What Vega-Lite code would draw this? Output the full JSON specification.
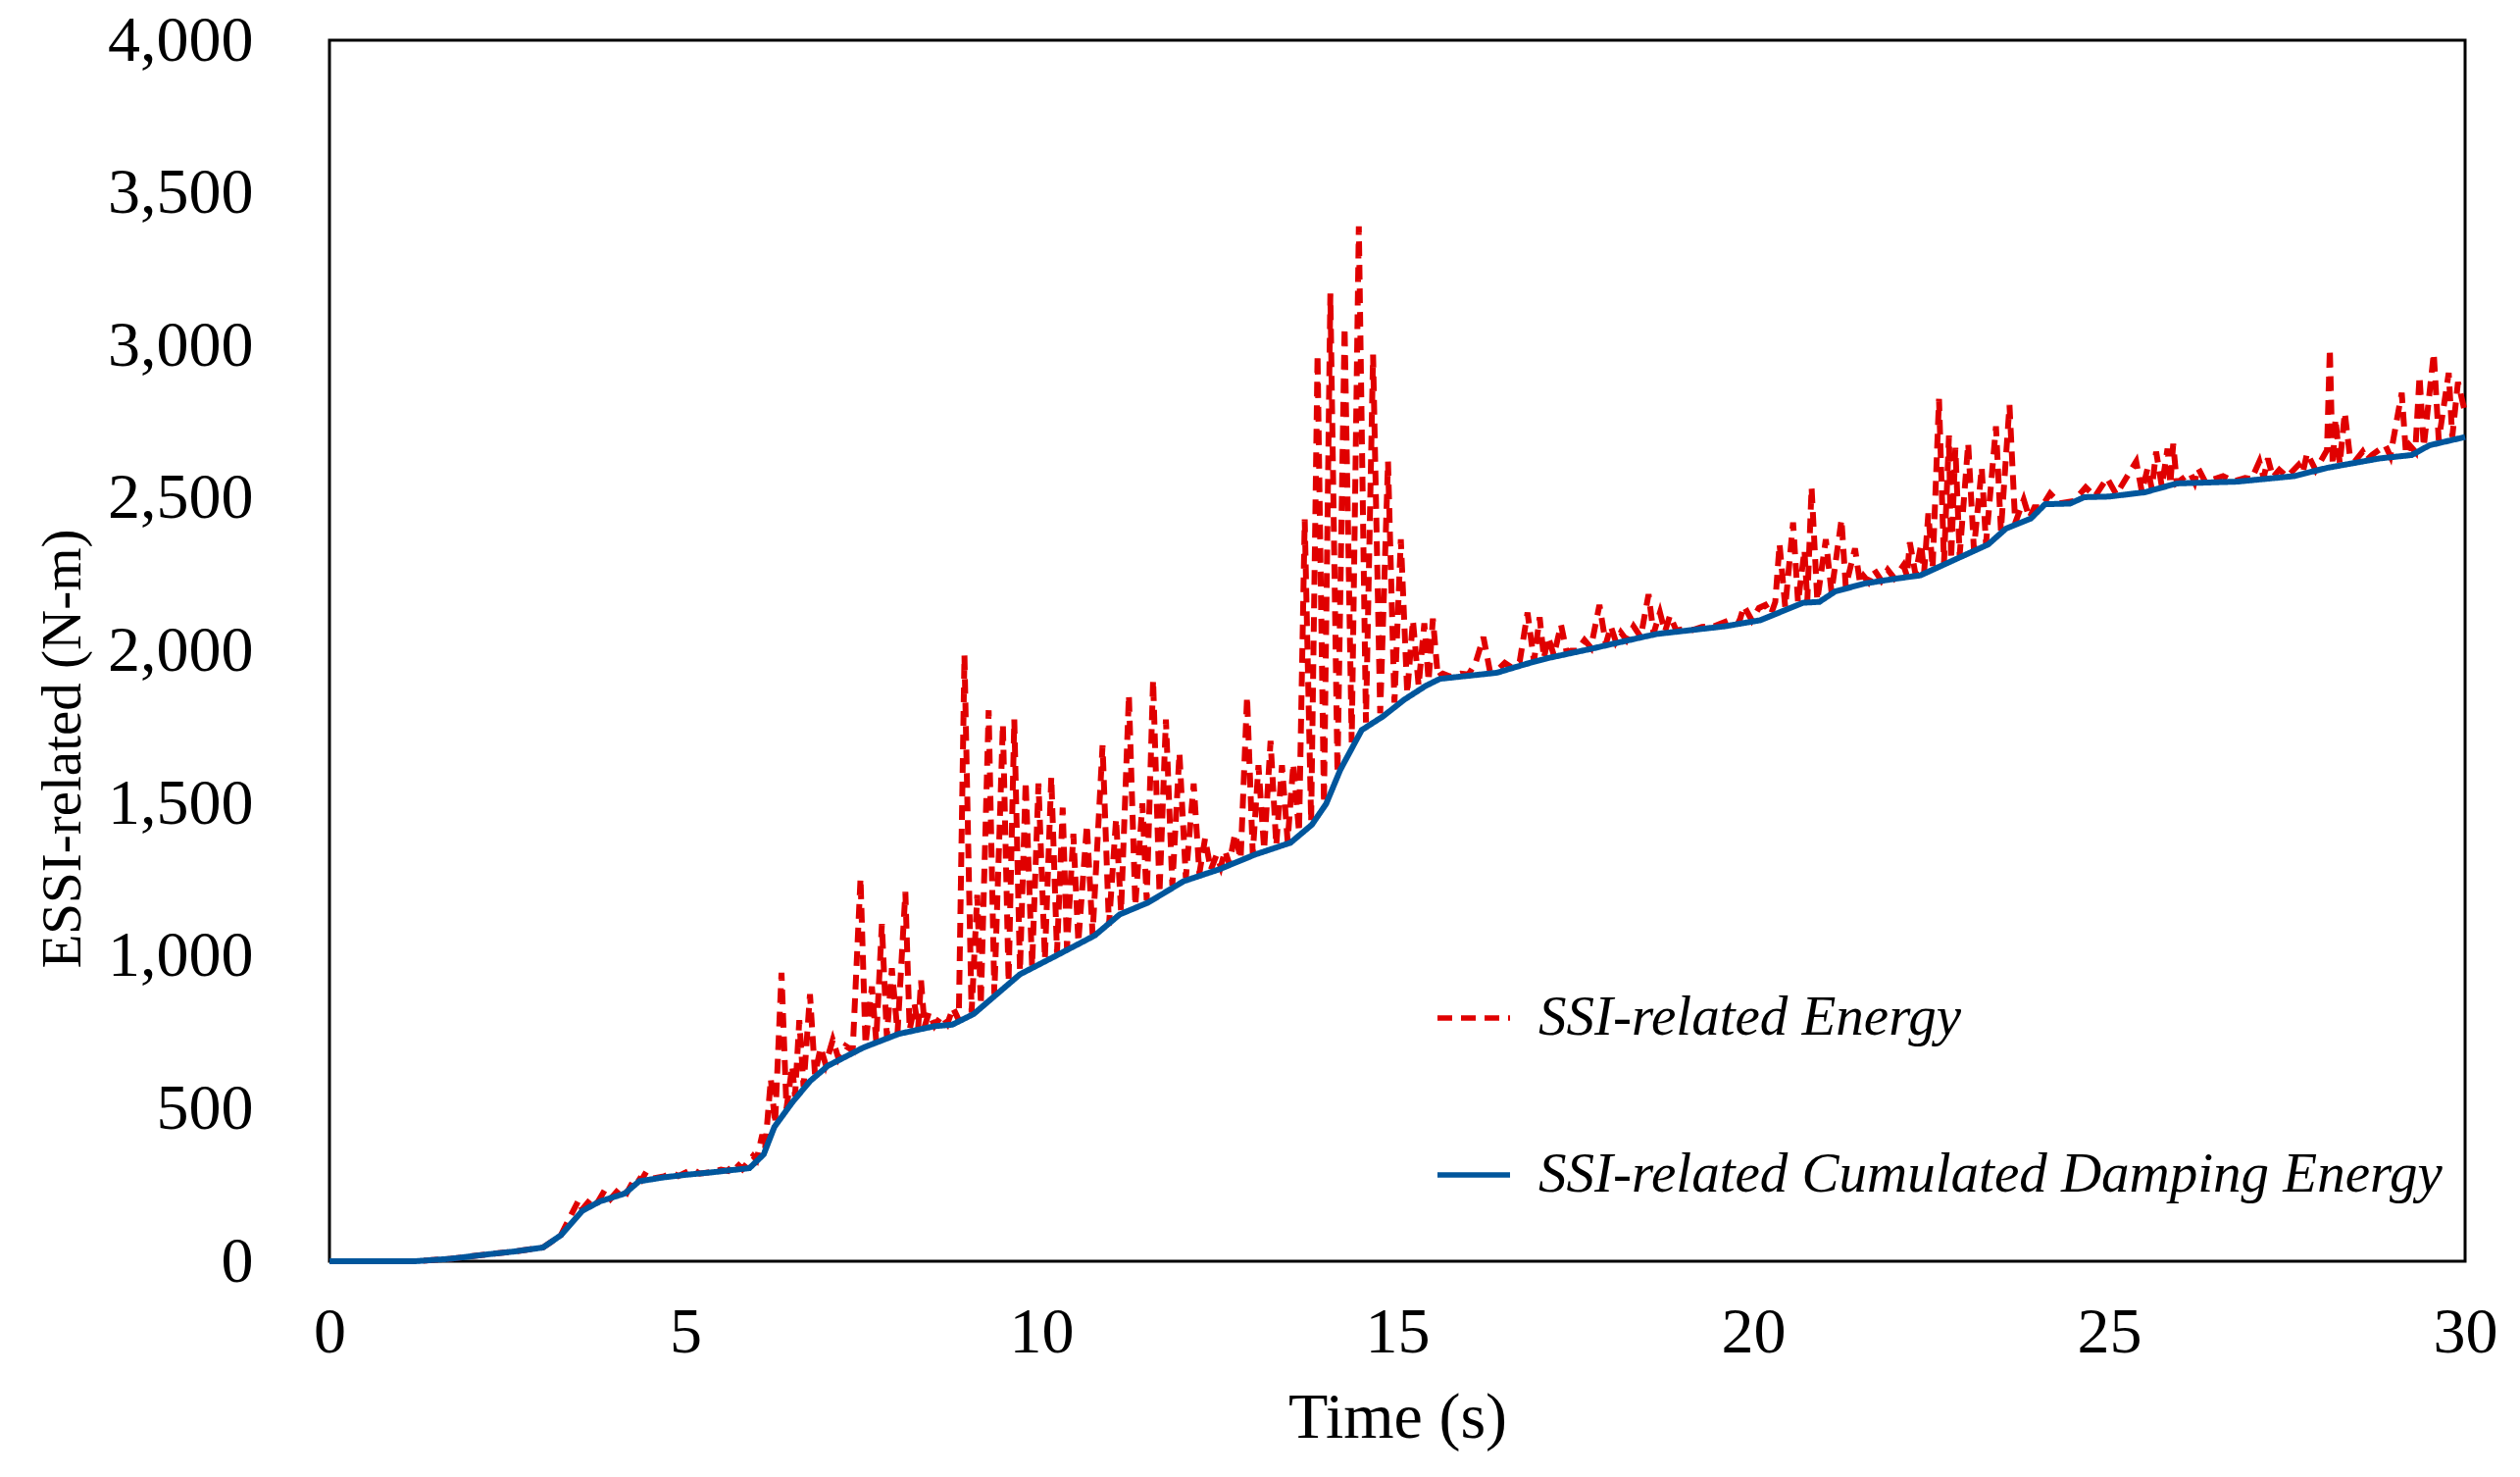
{
"$schema":"https://vega.github.io/schema/vega-lite/v6.json",
"width":2178,"height":1245,
"autosize":{"type":"none"},
"padding":{"left":336,"top":41,"right":56,"bottom":220},
"background":"white",
"config":{"view":{"stroke":"black","strokeWidth":3},"font":"Liberation Serif",
"legend":{"orient":"none","legendX":1127,"legendY":957,"direction":"vertical","symbolType":"stroke","symbolSize":5476,"symbolStrokeWidth":5.5,"labelFontSize":57,"labelFontStyle":"italic","labelFont":"Liberation Serif","labelColor":"black","labelOffset":26,"rowPadding":92,"labelLimit":0,"padding":0}},
"datasets":{
"damping":[{"time":0,"energy":0},{"time":1.2,"energy":0},{"time":1.7,"energy":8},{"time":2.2,"energy":22},{"time":2.6,"energy":32},{"time":3.0,"energy":45},{"time":3.25,"energy":85},{"time":3.55,"energy":165},{"time":3.8,"energy":196},{"time":4.15,"energy":222},{"time":4.35,"energy":262},{"time":4.7,"energy":275},{"time":5.0,"energy":283},{"time":5.4,"energy":292},{"time":5.9,"energy":305},{"time":6.1,"energy":350},{"time":6.25,"energy":440},{"time":6.5,"energy":520},{"time":6.75,"energy":590},{"time":7.0,"energy":640},{"time":7.5,"energy":700},{"time":8.0,"energy":745},{"time":8.5,"energy":770},{"time":8.75,"energy":775},{"time":9.05,"energy":810},{"time":9.4,"energy":880},{"time":9.7,"energy":940},{"time":10.2,"energy":1000},{"time":10.75,"energy":1067},{"time":11.1,"energy":1136},{"time":11.5,"energy":1175},{"time":12.0,"energy":1245},{"time":12.5,"energy":1284},{"time":13.0,"energy":1332},{"time":13.5,"energy":1371},{"time":13.8,"energy":1430},{"time":14.0,"energy":1498},{"time":14.2,"energy":1610},{"time":14.5,"energy":1740},{"time":14.8,"energy":1785},{"time":15.1,"energy":1840},{"time":15.4,"energy":1885},{"time":15.6,"energy":1908},{"time":16.4,"energy":1928},{"time":16.8,"energy":1956},{"time":17.1,"energy":1975},{"time":17.7,"energy":2005},{"time":18.45,"energy":2045},{"time":18.65,"energy":2055},{"time":19.6,"energy":2080},{"time":20.1,"energy":2100},{"time":20.7,"energy":2157},{"time":20.93,"energy":2160},{"time":21.15,"energy":2194},{"time":21.56,"energy":2220},{"time":22.0,"energy":2236},{"time":22.35,"energy":2247},{"time":22.8,"energy":2295},{"time":23.3,"energy":2348},{"time":23.55,"energy":2400},{"time":23.9,"energy":2433},{"time":24.1,"energy":2480},{"time":24.45,"energy":2482},{"time":24.65,"energy":2503},{"time":25.0,"energy":2505},{"time":25.5,"energy":2519},{"time":25.95,"energy":2548},{"time":26.8,"energy":2554},{"time":27.6,"energy":2572},{"time":28.06,"energy":2599},{"time":28.8,"energy":2630},{"time":29.25,"energy":2641},{"time":29.5,"energy":2673},{"time":30,"energy":2700}],
"energy":[{"time":0,"energy":0},{"time":1.2,"energy":0},{"time":1.7,"energy":8},{"time":2.2,"energy":22},{"time":2.6,"energy":32},{"time":3.0,"energy":45},{"time":3.25,"energy":85},{"time":3.5,"energy":200},{"time":3.55,"energy":170},{"time":3.7,"energy":212},{"time":3.78,"energy":198},{"time":3.87,"energy":234},{"time":3.95,"energy":205},{"time":4.1,"energy":245},{"time":4.18,"energy":225},{"time":4.3,"energy":277},{"time":4.38,"energy":265},{"time":4.45,"energy":293},{"time":4.55,"energy":272},{"time":4.7,"energy":278},{"time":4.81,"energy":290},{"time":4.9,"energy":279},{"time":5.1,"energy":302},{"time":5.2,"energy":287},{"time":5.4,"energy":294},{"time":5.5,"energy":300},{"time":5.6,"energy":296},{"time":5.7,"energy":325},{"time":5.8,"energy":302},{"time":5.95,"energy":345},{"time":6.0,"energy":332},{"time":6.08,"energy":415},{"time":6.12,"energy":370},{"time":6.2,"energy":597},{"time":6.26,"energy":450},{"time":6.35,"energy":945},{"time":6.42,"energy":500},{"time":6.5,"energy":640},{"time":6.54,"energy":540},{"time":6.6,"energy":790},{"time":6.66,"energy":572},{"time":6.75,"energy":875},{"time":6.82,"energy":612},{"time":6.9,"energy":700},{"time":6.97,"energy":645},{"time":7.07,"energy":725},{"time":7.15,"energy":665},{"time":7.25,"energy":705},{"time":7.35,"energy":690},{"time":7.46,"energy":1255},{"time":7.53,"energy":710},{"time":7.62,"energy":900},{"time":7.68,"energy":722},{"time":7.76,"energy":1105},{"time":7.83,"energy":735},{"time":7.9,"energy":960},{"time":7.98,"energy":748},{"time":8.09,"energy":1210},{"time":8.15,"energy":758},{"time":8.22,"energy":840},{"time":8.27,"energy":764},{"time":8.31,"energy":920},{"time":8.36,"energy":768},{"time":8.42,"energy":815},{"time":8.5,"energy":772},{"time":8.6,"energy":805},{"time":8.68,"energy":778},{"time":8.76,"energy":830},{"time":8.84,"energy":790},{"time":8.92,"energy":1985},{"time":9.02,"energy":815},{"time":9.1,"energy":1200},{"time":9.15,"energy":840},{"time":9.26,"energy":1805},{"time":9.34,"energy":875},{"time":9.46,"energy":1760},{"time":9.54,"energy":915},{"time":9.62,"energy":1775},{"time":9.7,"energy":950},{"time":9.78,"energy":1572},{"time":9.87,"energy":965},{"time":9.96,"energy":1565},{"time":10.05,"energy":990},{"time":10.14,"energy":1587},{"time":10.22,"energy":1010},{"time":10.3,"energy":1486},{"time":10.36,"energy":1025},{"time":10.45,"energy":1400},{"time":10.52,"energy":1045},{"time":10.64,"energy":1430},{"time":10.72,"energy":1070},{"time":10.86,"energy":1690},{"time":10.95,"energy":1100},{"time":11.05,"energy":1450},{"time":11.12,"energy":1145},{"time":11.23,"energy":1855},{"time":11.32,"energy":1165},{"time":11.42,"energy":1500},{"time":11.48,"energy":1182},{"time":11.57,"energy":1905},{"time":11.66,"energy":1205},{"time":11.75,"energy":1775},{"time":11.84,"energy":1230},{"time":11.94,"energy":1665},{"time":12.03,"energy":1255},{"time":12.14,"energy":1565},{"time":12.22,"energy":1270},{"time":12.3,"energy":1385},{"time":12.38,"energy":1282},{"time":12.46,"energy":1330},{"time":12.52,"energy":1292},{"time":12.58,"energy":1345},{"time":12.64,"energy":1302},{"time":12.72,"energy":1400},{"time":12.8,"energy":1318},{"time":12.89,"energy":1850},{"time":12.97,"energy":1335},{"time":13.05,"energy":1625},{"time":13.13,"energy":1348},{"time":13.22,"energy":1705},{"time":13.3,"energy":1362},{"time":13.38,"energy":1625},{"time":13.46,"energy":1376},{"time":13.54,"energy":1630},{"time":13.62,"energy":1405},{"time":13.7,"energy":2430},{"time":13.79,"energy":1440},{"time":13.88,"energy":2970},{"time":13.97,"energy":1500},{"time":14.06,"energy":3170},{"time":14.16,"energy":1600},{"time":14.26,"energy":3060},{"time":14.36,"energy":1700},{"time":14.46,"energy":3390},{"time":14.56,"energy":1765},{"time":14.66,"energy":2970},{"time":14.76,"energy":1795},{"time":14.87,"energy":2620},{"time":14.96,"energy":1830},{"time":15.05,"energy":2365},{"time":15.14,"energy":1860},{"time":15.22,"energy":2100},{"time":15.3,"energy":1885},{"time":15.38,"energy":2090},{"time":15.44,"energy":1900},{"time":15.5,"energy":2105},{"time":15.57,"energy":1915},{"time":15.64,"energy":1925},{"time":15.75,"energy":1915},{"time":15.89,"energy":1925},{"time":16.0,"energy":1922},{"time":16.1,"energy":1960},{"time":16.21,"energy":2045},{"time":16.3,"energy":1935},{"time":16.4,"energy":1935},{"time":16.51,"energy":1960},{"time":16.6,"energy":1946},{"time":16.72,"energy":1965},{"time":16.83,"energy":2125},{"time":16.92,"energy":1965},{"time":17.0,"energy":2110},{"time":17.06,"energy":1975},{"time":17.12,"energy":2045},{"time":17.2,"energy":1985},{"time":17.3,"energy":2085},{"time":17.38,"energy":1995},{"time":17.44,"energy":2000},{"time":17.52,"energy":2000},{"time":17.63,"energy":2035},{"time":17.72,"energy":2010},{"time":17.84,"energy":2150},{"time":17.93,"energy":2022},{"time":18.0,"energy":2080},{"time":18.07,"energy":2030},{"time":18.14,"energy":2060},{"time":18.22,"energy":2035},{"time":18.32,"energy":2080},{"time":18.42,"energy":2045},{"time":18.53,"energy":2185},{"time":18.6,"energy":2056},{"time":18.69,"energy":2125},{"time":18.76,"energy":2062},{"time":18.83,"energy":2115},{"time":18.92,"energy":2066},{"time":19.05,"energy":2072},{"time":19.15,"energy":2068},{"time":19.28,"energy":2078},{"time":19.45,"energy":2080},{"time":19.69,"energy":2103},{"time":19.8,"energy":2092},{"time":19.87,"energy":2146},{"time":19.98,"energy":2100},{"time":20.08,"energy":2140},{"time":20.17,"energy":2150},{"time":20.25,"energy":2120},{"time":20.31,"energy":2160},{"time":20.37,"energy":2350},{"time":20.45,"energy":2142},{"time":20.56,"energy":2420},{"time":20.63,"energy":2158},{"time":20.72,"energy":2330},{"time":20.76,"energy":2162},{"time":20.82,"energy":2535},{"time":20.9,"energy":2165},{"time":21.02,"energy":2365},{"time":21.1,"energy":2192},{"time":21.24,"energy":2430},{"time":21.3,"energy":2210},{"time":21.43,"energy":2335},{"time":21.5,"energy":2222},{"time":21.55,"energy":2245},{"time":21.62,"energy":2225},{"time":21.7,"energy":2265},{"time":21.8,"energy":2230},{"time":21.89,"energy":2265},{"time":21.98,"energy":2238},{"time":22.11,"energy":2280},{"time":22.16,"energy":2245},{"time":22.2,"energy":2355},{"time":22.28,"energy":2250},{"time":22.36,"energy":2350},{"time":22.4,"energy":2255},{"time":22.46,"energy":2450},{"time":22.52,"energy":2270},{"time":22.61,"energy":2825},{"time":22.68,"energy":2287},{"time":22.75,"energy":2705},{"time":22.78,"energy":2298},{"time":22.84,"energy":2665},{"time":22.9,"energy":2312},{"time":23.02,"energy":2680},{"time":23.1,"energy":2332},{"time":23.21,"energy":2600},{"time":23.27,"energy":2350},{"time":23.41,"energy":2735},{"time":23.48,"energy":2392},{"time":23.6,"energy":2805},{"time":23.68,"energy":2418},{"time":23.8,"energy":2495},{"time":23.88,"energy":2435},{"time":23.95,"energy":2470},{"time":24.05,"energy":2470},{"time":24.17,"energy":2515},{"time":24.3,"energy":2483},{"time":24.5,"energy":2490},{"time":24.67,"energy":2535},{"time":24.8,"energy":2505},{"time":24.97,"energy":2566},{"time":25.1,"energy":2512},{"time":25.38,"energy":2620},{"time":25.46,"energy":2520},{"time":25.54,"energy":2598},{"time":25.6,"energy":2530},{"time":25.66,"energy":2652},{"time":25.74,"energy":2538},{"time":25.82,"energy":2662},{"time":25.86,"energy":2545},{"time":25.9,"energy":2678},{"time":25.95,"energy":2550},{"time":26.14,"energy":2582},{"time":26.2,"energy":2552},{"time":26.25,"energy":2598},{"time":26.35,"energy":2553},{"time":26.6,"energy":2572},{"time":26.75,"energy":2555},{"time":26.91,"energy":2566},{"time":27.0,"energy":2562},{"time":27.11,"energy":2620},{"time":27.17,"energy":2566},{"time":27.23,"energy":2630},{"time":27.3,"energy":2568},{"time":27.39,"energy":2593},{"time":27.5,"energy":2570},{"time":27.66,"energy":2609},{"time":27.72,"energy":2583},{"time":27.78,"energy":2647},{"time":27.9,"energy":2592},{"time":28.06,"energy":2657},{"time":28.1,"energy":2990},{"time":28.14,"energy":2608},{"time":28.18,"energy":2760},{"time":28.24,"energy":2612},{"time":28.31,"energy":2780},{"time":28.38,"energy":2641},{"time":28.45,"energy":2620},{"time":28.56,"energy":2652},{"time":28.62,"energy":2625},{"time":28.69,"energy":2641},{"time":28.88,"energy":2673},{"time":28.95,"energy":2638},{"time":29.11,"energy":2845},{"time":29.17,"energy":2643},{"time":29.22,"energy":2673},{"time":29.3,"energy":2652},{"time":29.36,"energy":2900},{"time":29.42,"energy":2668},{"time":29.56,"energy":2975},{"time":29.63,"energy":2690},{"time":29.77,"energy":2910},{"time":29.82,"energy":2700},{"time":29.9,"energy":2880},{"time":30,"energy":2780}]
},
"encoding":{
"x":{"field":"time","type":"quantitative","scale":{"domain":[0,30],"nice":false,"zero":false},
"axis":{"values":[0,5,10,15,20,25,30],"title":"Time (s)","grid":false,"ticks":false,"tickSize":0,"domain":false,"labelFontSize":66,"labelPadding":40,"labelColor":"black","labelFont":"Liberation Serif","titleFontSize":66,"titleFontWeight":"normal","titleFont":"Liberation Serif","titleColor":"black","titlePadding":22,"labelFlush":false}},
"y":{"field":"energy","type":"quantitative","scale":{"domain":[0,4000],"nice":false},
"axis":{"values":[0,500,1000,1500,2000,2500,3000,3500,4000],"format":",.0f","title":"ESSI-related (N-m)","grid":false,"ticks":false,"tickSize":0,"domain":false,"labelFontSize":66,"labelPadding":78,"labelColor":"black","labelFont":"Liberation Serif","titleFontSize":57,"titleFontWeight":"normal","titleFont":"Liberation Serif","titleColor":"black","titleX":-272,"titleY":722,"titleAngle":270,"titleAlign":"center","titleBaseline":"middle","labelFlush":false}}
},
"layer":[
{"data":{"name":"energy"},"mark":{"type":"line","strokeWidth":6},
"encoding":{"color":{"datum":"SSI-related Energy","type":"nominal","scale":{"domain":["SSI-related Energy","SSI-related Cumulated Damping Energy"],"range":["#E00000","#00569C"]},"legend":{"title":null}},
"strokeDash":{"datum":"SSI-related Energy","type":"nominal","scale":{"domain":["SSI-related Energy","SSI-related Cumulated Damping Energy"],"range":[[15,9],[1,0]]},"legend":{"title":null}}}},
{"data":{"name":"damping"},"mark":{"type":"line","strokeWidth":6},
"encoding":{"color":{"datum":"SSI-related Cumulated Damping Energy","type":"nominal"},
"strokeDash":{"datum":"SSI-related Cumulated Damping Energy","type":"nominal"}}}
]
}
